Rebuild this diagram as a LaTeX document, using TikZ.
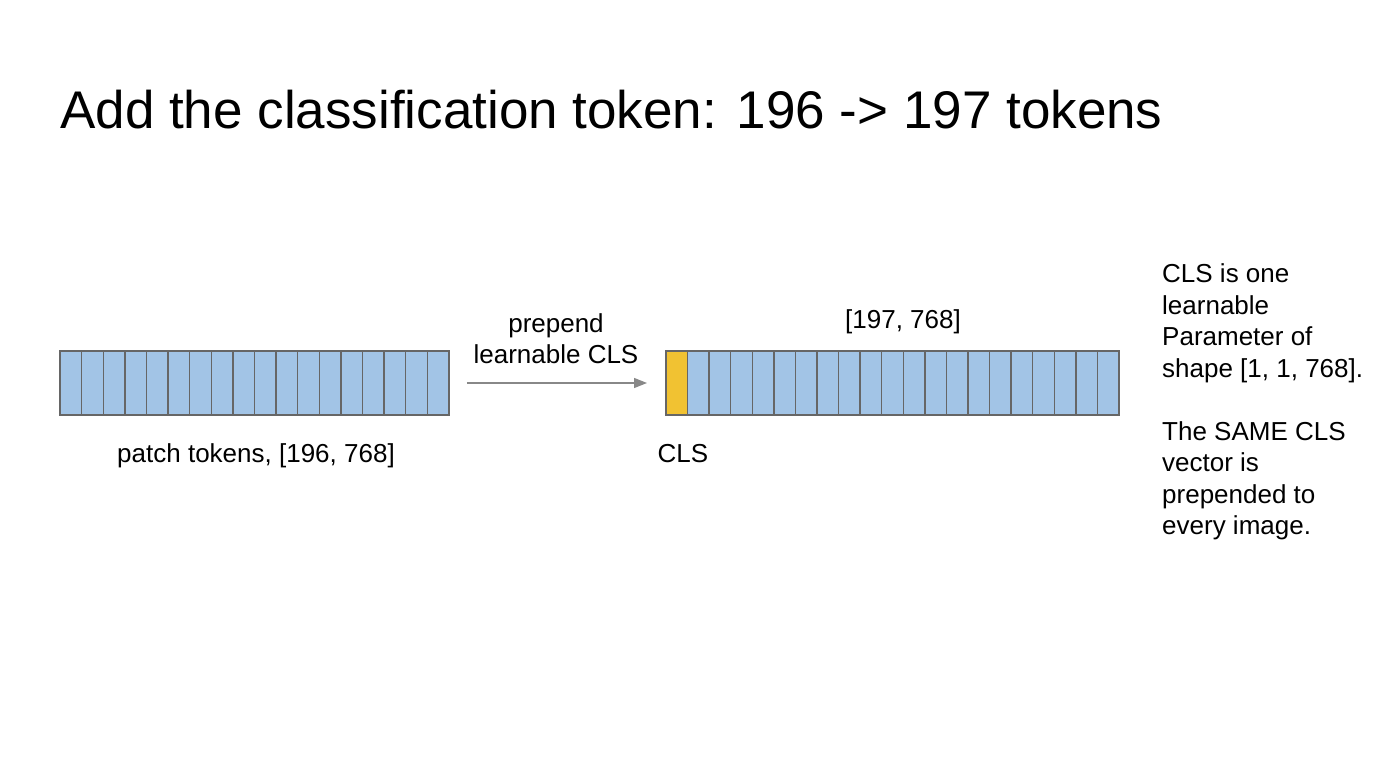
\documentclass[tikz,border=0pt]{standalone}
\usepackage{fontspec}
\setmainfont{Liberation Sans}
\usetikzlibrary{arrows.meta}
\definecolor{cellblue}{RGB}{162,196,230}
\definecolor{clsyellow}{RGB}{241,194,50}
\definecolor{cellborder}{RGB}{102,102,102}
\definecolor{arrowgray}{RGB}{136,136,136}
\tikzset{
  cellbox/.style={draw=cellborder, line width=1.4pt, fill=cellblue, minimum width=21.6pt, minimum height=64pt, inner sep=0pt, outer sep=0pt, anchor=north west},
  clsbox/.style={cellbox, fill=clsyellow},
  lbl/.style={font=\fontsize{26}{31.5}\selectfont, inner sep=0pt, text=black},
}
\begin{document}
\begin{tikzpicture}[x=1pt,y=-1pt]
\useasboundingbox[fill=white] (0,0) rectangle (1376,768);
% title
\node[font=\fontsize{53}{60}\selectfont, inner sep=0pt, anchor=base west] (title) at (60,128) {Add the classification token: 196 -> 197 tokens};
% left bar
\foreach \i in {1,...,18} {
  \node[cellbox] (l\i) at ({60+(\i-1)*21.611},351) {};
}
% right bar
\node[clsbox] (r1) at (666,351) {};
\foreach \i in {2,...,21} {
  \node[cellbox] (r\i) at ({666+(\i-1)*21.571},351) {};
}
% arrow
\draw[arrowgray, line width=1.3pt, -{Triangle[length=13pt,width=10pt]}, shorten <=18pt, shorten >=19pt] (l18.east) -- (r1.west);
% labels
\node[lbl, anchor=base] (plabel) at (256,462) {patch tokens, [196, 768]};
\node[lbl, anchor=base] (clslabel) at (683,462) {CLS};
\node[lbl, anchor=base] (shape) at (903,328) {[197, 768]};
\node[lbl, anchor=base] (prep1) at (556,332) {prepend};
\node[lbl, anchor=base] (prep2) at (556,363) {learnable CLS};
% right note
\node[lbl, anchor=north west, align=left] (note) at (1162,263.5) {CLS is one\\learnable\\Parameter of\\shape [1, 1, 768].\\[31.5pt]The SAME CLS\\vector is\\prepended to\\every image.};
\end{tikzpicture}
\end{document}
